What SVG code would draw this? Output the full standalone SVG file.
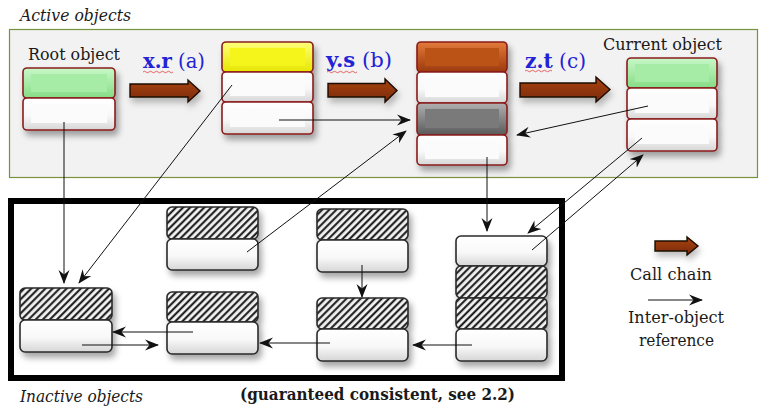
<svg xmlns="http://www.w3.org/2000/svg" width="759" height="410" viewBox="0 0 759 410">
<defs>
<style>
.t{font-family:"DejaVu Serif","Liberation Serif",serif;fill:#1a1a1a}
.it{font-style:italic}
.blue{fill:#2323d6;font-size:20px}
.cell{stroke:#8a1c1c;stroke-width:1.6}
.bcell{stroke:#2a2a2a;stroke-width:1.6}
.bev{stroke:none}
.con{stroke:#111;stroke-width:1;fill:none;marker-end:url(#ah)}
.call{fill:url(#gCall);stroke:#1a0a00;stroke-width:1.4}
.wavy{fill:none;stroke:#e04040;stroke-width:0.8}
</style>
<linearGradient id="gWhite" x1="0" y1="0" x2="0" y2="1"><stop offset="0" stop-color="#ffffff"/><stop offset="0.55" stop-color="#f8f8f8"/><stop offset="1" stop-color="#d6d6d6"/></linearGradient>
<linearGradient id="gGreen" x1="0" y1="0" x2="0" y2="1"><stop offset="0" stop-color="#c8f8c8"/><stop offset="1" stop-color="#86dc86"/></linearGradient>
<linearGradient id="gYellow" x1="0" y1="0" x2="0" y2="1"><stop offset="0" stop-color="#ffff7a"/><stop offset="1" stop-color="#e6e600"/></linearGradient>
<linearGradient id="gBrown" x1="0" y1="0" x2="0" y2="1"><stop offset="0" stop-color="#e27a3a"/><stop offset="1" stop-color="#9c3a0c"/></linearGradient>
<linearGradient id="gGray" x1="0" y1="0" x2="0" y2="1"><stop offset="0" stop-color="#b0b0b0"/><stop offset="1" stop-color="#5a5a5a"/></linearGradient>
<linearGradient id="gCall" x1="0" y1="0" x2="0" y2="1"><stop offset="0" stop-color="#a8430f"/><stop offset="1" stop-color="#7a2a05"/></linearGradient>
<pattern id="hatch" width="5" height="5" patternUnits="userSpaceOnUse" patternTransform="rotate(45)">
<rect width="5" height="5" fill="#f4f4f4"/>
<line x1="1.2" y1="0" x2="1.2" y2="5" stroke="#111" stroke-width="2"/>
</pattern>
<filter id="sh" x="-20%" y="-20%" width="150%" height="150%">
<feDropShadow dx="3" dy="5" stdDeviation="3" flood-color="#000" flood-opacity="0.35"/>
</filter>
<filter id="sh2" x="-20%" y="-40%" width="150%" height="200%">
<feDropShadow dx="2" dy="5" stdDeviation="3" flood-color="#000" flood-opacity="0.25"/>
</filter>
<marker id="ah" viewBox="0 0 14 12" refX="13" refY="6" markerWidth="14" markerHeight="12" markerUnits="userSpaceOnUse" orient="auto">
<path d="M0,0.5 L14,6 L0,11.5 L4.5,6 z" fill="#111"/>
</marker>
</defs>

<rect x="0" y="0" width="759" height="410" fill="#ffffff"/>

<!-- panels -->
<g id="activePanel">
<rect x="9.5" y="29.5" width="748" height="148" fill="#f2f2f2" stroke="#77933c" stroke-width="1.2"/>
<text class="t it" x="20" y="21" font-size="16" textLength="111" lengthAdjust="spacingAndGlyphs">Active objects</text>
</g>
<g id="inactivePanel">
<rect x="11" y="201" width="551" height="177" fill="#ffffff" stroke="#000" stroke-width="6"/>
<text class="t it" x="20" y="402" font-size="16" textLength="123" lengthAdjust="spacingAndGlyphs">Inactive objects</text>
<text class="t" x="240" y="400" font-size="16" font-weight="bold" textLength="275" lengthAdjust="spacingAndGlyphs">(guaranteed consistent, see 2.2)</text>
</g>

<!-- call chain arrows -->
<g id="callchain" filter="url(#sh2)">
<path class="call" d="M130,84 H188 V80 L200,91 L188,102 V97 H130 Z"/>
<path class="call" d="M328,83.5 H385 V79 L397,90.5 L385,102 V97 H328 Z"/>
<path class="call" d="M520,83 H596 V77 L610,89.5 L596,102 V97 H520 Z"/>
<path class="call" d="M655,241 H687 V237 L698,246 L687,255 V251 H655 Z"/>
</g>

<!-- labels -->
<g id="labels">
<text class="t" x="28" y="60" font-size="17" textLength="92" lengthAdjust="spacingAndGlyphs">Root object</text>
<text class="t" x="603" y="50" font-size="17" textLength="119" lengthAdjust="spacingAndGlyphs">Current object</text>
<text class="t blue" x="143" y="68" textLength="62" lengthAdjust="spacingAndGlyphs"><tspan font-weight="bold">x.r</tspan> (a)</text>
<text class="t blue" x="326" y="67" textLength="66" lengthAdjust="spacingAndGlyphs"><tspan font-weight="bold">y.s</tspan> (b)</text>
<text class="t blue" x="525" y="68" textLength="61" lengthAdjust="spacingAndGlyphs"><tspan font-weight="bold">z.t</tspan> (c)</text>
<path class="wavy" d="M143,72 q1.5,-1.5 3,0 t3,0 t3,0 t3,0 t3,0 t3,0 t3,0 t3,0 t3,0 t3,0"/>
<path class="wavy" d="M327,72 q1.5,-1.5 3,0 t3,0 t3,0 t3,0 t3,0 t3,0 t3,0 t3,0 t3,0 t3,0"/>
<path class="wavy" d="M525,71 q1.5,-1.5 3,0 t3,0 t3,0 t3,0 t3,0 t3,0 t3,0 t3,0 t3,0"/>
</g>

<!-- active nodes -->
<g id="rootObject" filter="url(#sh)">
<rect class="cell" x="23" y="68" width="92" height="30" rx="4" fill="url(#gGreen)"/>
<rect class="bev" x="31" y="74" width="76" height="18" fill="#a6eba6"/>
<rect class="cell" x="23" y="98" width="92" height="32" rx="4" fill="url(#gWhite)"/>
<rect class="bev" x="31" y="104" width="76" height="19" fill="#fbfbfb"/>
</g>
<g id="objectA" filter="url(#sh)">
<rect class="cell" x="222" y="42" width="91" height="30" rx="4" fill="url(#gYellow)"/>
<rect class="bev" x="230" y="48" width="75" height="18" fill="#f5f51c"/>
<rect class="cell" x="222" y="72" width="91" height="30" rx="4" fill="url(#gWhite)"/>
<rect class="bev" x="230" y="78" width="75" height="18" fill="#fbfbfb"/>
<rect class="cell" x="222" y="102" width="91" height="32" rx="4" fill="url(#gWhite)"/>
<rect class="bev" x="230" y="108" width="75" height="19" fill="#fbfbfb"/>
</g>
<g id="objectB" filter="url(#sh)">
<rect class="cell" x="417" y="42" width="90" height="30" rx="4" fill="url(#gBrown)"/>
<rect class="bev" x="425" y="48" width="74" height="18" fill="#bb5218"/>
<rect class="cell" x="417" y="72" width="90" height="31" rx="4" fill="url(#gWhite)"/>
<rect class="bev" x="425" y="78" width="74" height="19" fill="#fbfbfb"/>
<rect class="cell" x="417" y="103" width="90" height="32" rx="4" fill="url(#gGray)"/>
<rect class="bev" x="425" y="109" width="74" height="19" fill="#7a7a7a"/>
<rect class="cell" x="417" y="135" width="90" height="30" rx="4" fill="url(#gWhite)"/>
<rect class="bev" x="425" y="141" width="74" height="18" fill="#fbfbfb"/>
</g>
<g id="currentObject" filter="url(#sh)">
<rect class="cell" x="627" y="58" width="90" height="30" rx="4" fill="url(#gGreen)"/>
<rect class="bev" x="635" y="64" width="74" height="18" fill="#a6eba6"/>
<rect class="cell" x="627" y="88" width="90" height="31" rx="4" fill="url(#gWhite)"/>
<rect class="bev" x="635" y="94" width="74" height="19" fill="#fbfbfb"/>
<rect class="cell" x="627" y="119" width="90" height="32" rx="4" fill="url(#gWhite)"/>
<rect class="bev" x="635" y="125" width="74" height="19" fill="#fbfbfb"/>
</g>

<!-- inactive nodes -->
<g id="inactive1" filter="url(#sh)">
<rect class="bcell" x="20" y="288" width="92" height="32" rx="5" fill="url(#hatch)"/>
<rect class="bcell" x="20" y="320" width="92" height="32" rx="5" fill="url(#gWhite)"/>
</g>
<g id="inactive2" filter="url(#sh)">
<rect class="bcell" x="167" y="207" width="91" height="32" rx="5" fill="url(#hatch)"/>
<rect class="bcell" x="167" y="239" width="91" height="31" rx="5" fill="url(#gWhite)"/>
</g>
<g id="inactive3" filter="url(#sh)">
<rect class="bcell" x="167" y="292" width="91" height="30" rx="5" fill="url(#hatch)"/>
<rect class="bcell" x="167" y="322" width="91" height="32" rx="5" fill="url(#gWhite)"/>
</g>
<g id="inactive4" filter="url(#sh)">
<rect class="bcell" x="317" y="209" width="91" height="31" rx="5" fill="url(#hatch)"/>
<rect class="bcell" x="317" y="240" width="91" height="32" rx="5" fill="url(#gWhite)"/>
</g>
<g id="inactive5" filter="url(#sh)">
<rect class="bcell" x="317" y="298" width="91" height="31" rx="5" fill="url(#hatch)"/>
<rect class="bcell" x="317" y="329" width="91" height="32" rx="5" fill="url(#gWhite)"/>
</g>
<g id="inactive6" filter="url(#sh)">
<rect class="bcell" x="456" y="236" width="91" height="30" rx="5" fill="url(#gWhite)"/>
<rect class="bcell" x="456" y="266" width="91" height="32" rx="5" fill="url(#hatch)"/>
<rect class="bcell" x="456" y="298" width="91" height="31" rx="5" fill="url(#hatch)"/>
<rect class="bcell" x="456" y="329" width="91" height="32" rx="5" fill="url(#gWhite)"/>
</g>

<!-- legend -->
<g id="legend">
<text class="t" x="630" y="280" font-size="16" textLength="82" lengthAdjust="spacingAndGlyphs">Call chain</text>
<line class="con" x1="648" y1="300" x2="702" y2="300"/>
<text class="t" x="628" y="323" font-size="16" textLength="96" lengthAdjust="spacingAndGlyphs">Inter-object</text>
<text class="t" x="639" y="346" font-size="16" textLength="75" lengthAdjust="spacingAndGlyphs">reference</text>
</g>

<!-- connectors -->
<g id="connectors">
<line class="con" x1="64" y1="122" x2="64" y2="283"/>
<line class="con" x1="232" y1="85" x2="79" y2="283"/>
<line class="con" x1="279" y1="120" x2="410" y2="120"/>
<line class="con" x1="247" y1="252" x2="406" y2="131"/>
<line class="con" x1="648" y1="106" x2="517" y2="135"/>
<line class="con" x1="487" y1="157" x2="487" y2="231"/>
<line class="con" x1="642" y1="138" x2="528" y2="233"/>
<line class="con" x1="532" y1="250" x2="643" y2="155"/>
<line class="con" x1="362" y1="265" x2="362" y2="297"/>
<line class="con" x1="472" y1="345" x2="413" y2="345"/>
<line class="con" x1="330" y1="343" x2="260" y2="343"/>
<line class="con" x1="193" y1="332" x2="113" y2="332"/>
<line class="con" x1="82" y1="345" x2="158" y2="345"/>
</g>
</svg>
